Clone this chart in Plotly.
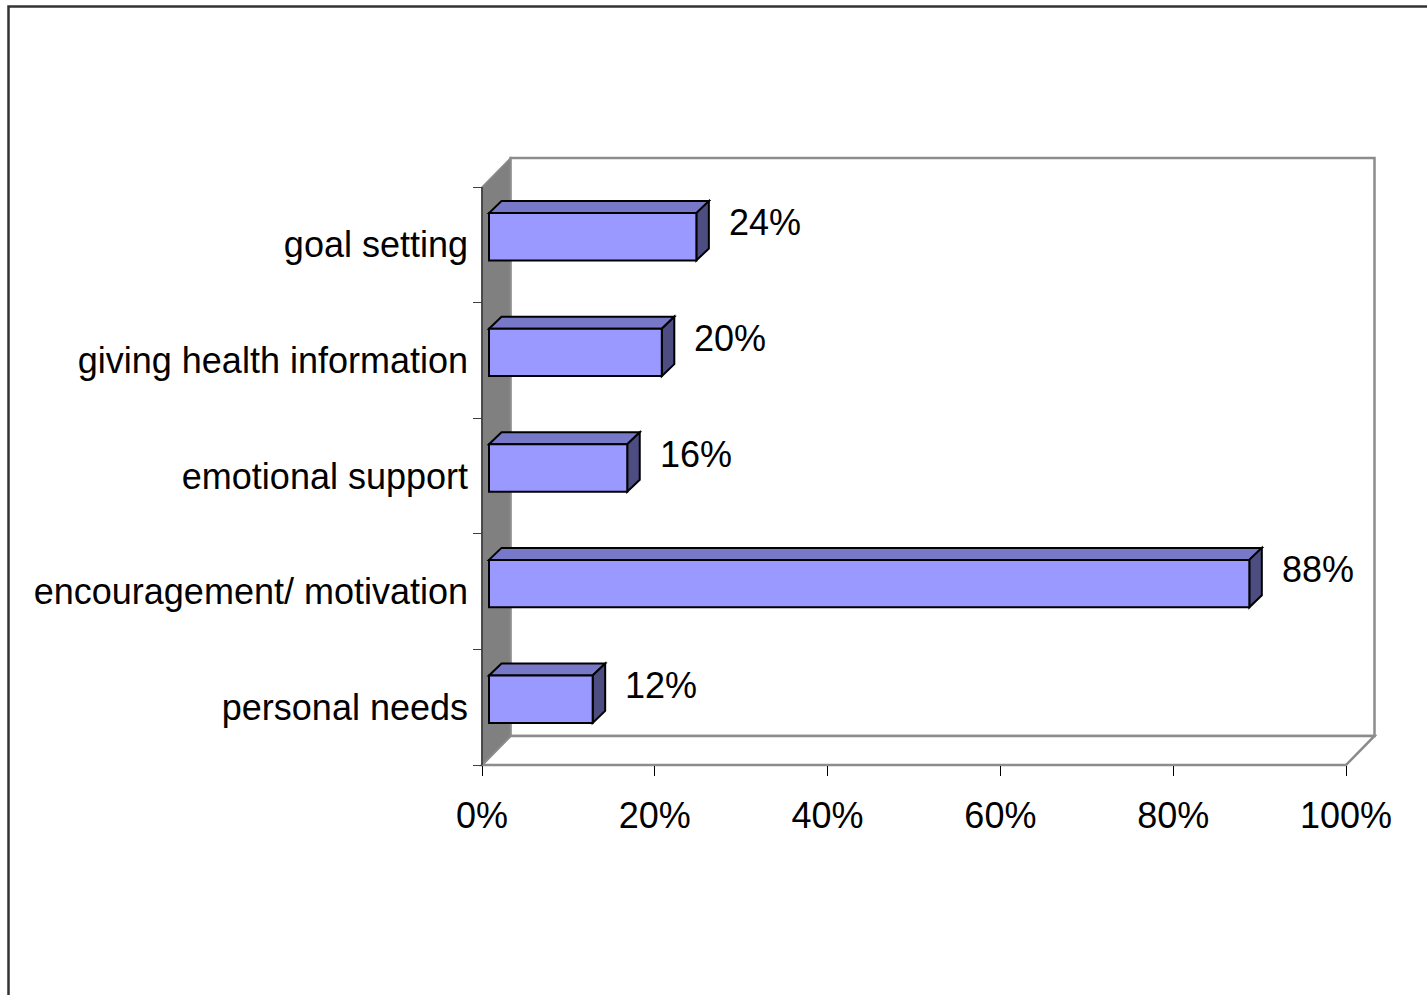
import plotly.graph_objects as go

# Survey results: share of responses per support category
categories = [
    "goal setting",
    "giving health information",
    "emotional support",
    "encouragement/ motivation",
    "personal needs",
]
values = [24, 20, 16, 88, 12]
x_ticks = [0, 20, 40, 60, 80, 100]

W, H = 1427, 995
FONT = "Liberation Sans, Arial, sans-serif"
FONT_SIZE = 36

# Pixel frame of the front plane of the 3D box
FRONT_LEFT, FRONT_RIGHT = 482, 1346
FRONT_TOP, FRONT_BOTTOM = 187, 765
n = len(categories)
PX_PER_PCT = (FRONT_RIGHT - FRONT_LEFT) / 100.0
PX_PER_CAT = (FRONT_BOTTOM - FRONT_TOP) / n

x_range = [-FRONT_LEFT / PX_PER_PCT, (W - FRONT_LEFT) / PX_PER_PCT]
y_range = [-0.5 - (H - FRONT_BOTTOM) / PX_PER_CAT, n - 0.5 + FRONT_TOP / PX_PER_CAT]


def dx(px):
    return px / PX_PER_PCT


def dy(px):
    return px / PX_PER_CAT


WALL_DX, WALL_DY = dx(28.5), dy(29)        # depth of the box
BAR_DX, BAR_DY = dx(7), dy(8)              # inset of bar front faces
BAR_DEPTH_X, BAR_DEPTH_Y = dx(12.5), dy(12)  # depth of each bar
BAR_W = 0.41

FRONT_COLOR = "#9999FF"
TOP_COLOR = "#7878C8"
SIDE_COLOR = "#4D4D82"
WALL_COLOR = "#808080"
EDGE_COLOR = "#8C8C8C"

# category index, bottom to top
order = list(reversed(categories))
pos = {c: order.index(c) for c in categories}

y_lo, y_hi = -0.5, n - 0.5
shapes = []


def poly(pts):
    return "M " + " L ".join(f"{x},{y}" for x, y in pts) + " Z"


# back wall
shapes.append(dict(type="rect", xref="x", yref="y", layer="below",
                   x0=WALL_DX, x1=100 + WALL_DX, y0=y_lo + WALL_DY, y1=y_hi + WALL_DY,
                   fillcolor="white", line=dict(color=EDGE_COLOR, width=2.5)))
# floor
shapes.append(dict(type="path", xref="x", yref="y", layer="below",
                   path=poly([(0, y_lo), (100, y_lo), (100 + WALL_DX, y_lo + WALL_DY),
                              (WALL_DX, y_lo + WALL_DY)]),
                   fillcolor="white", line=dict(color=EDGE_COLOR, width=2.5)))
# left wall
shapes.append(dict(type="path", xref="x", yref="y", layer="below",
                   path=poly([(0, y_lo), (0, y_hi), (WALL_DX, y_hi + WALL_DY),
                              (WALL_DX, y_lo + WALL_DY)]),
                   fillcolor=WALL_COLOR, line=dict(color=EDGE_COLOR, width=1.5)))
shapes.append(dict(type="line", xref="x", yref="y", layer="below",
                   x0=0, x1=0, y0=y_lo, y1=y_hi, line=dict(color="#303030", width=1.5)))

# top and side faces of every bar
for c, v in zip(categories, values):
    p = pos[c]
    y0 = p - BAR_W / 2 + BAR_DY
    y1 = p + BAR_W / 2 + BAR_DY
    xl = BAR_DX
    xr = BAR_DX + v
    shapes.append(dict(type="path", xref="x", yref="y", layer="below",
                       path=poly([(xl, y1), (xl + BAR_DEPTH_X, y1 + BAR_DEPTH_Y),
                                  (xr + BAR_DEPTH_X, y1 + BAR_DEPTH_Y), (xr, y1)]),
                       fillcolor=TOP_COLOR, line=dict(color="black", width=2)))
    shapes.append(dict(type="path", xref="x", yref="y", layer="below",
                       path=poly([(xr, y0), (xr, y1), (xr + BAR_DEPTH_X, y1 + BAR_DEPTH_Y),
                                  (xr + BAR_DEPTH_X, y0 + BAR_DEPTH_Y)]),
                       fillcolor=SIDE_COLOR, line=dict(color="black", width=2)))

# outer chart border
shapes.append(dict(type="rect", xref="paper", yref="paper", layer="above",
                   x0=8.5 / W, x1=1 + 10 / W, y0=-10 / H, y1=1 - 6.5 / H,
                   line=dict(color="#333333", width=2.5), fillcolor="rgba(0,0,0,0)"))

# front faces of the bars
bars = go.Bar(
    y=categories, x=values, orientation="h",
    base=BAR_DX, width=BAR_W, offset=-BAR_W / 2 + BAR_DY,
    marker=dict(color=FRONT_COLOR, line=dict(color="black", width=2)),
    hoverinfo="skip",
)

annotations = [
    dict(x=BAR_DX + v + BAR_DEPTH_X, y=c, xref="x", yref="y",
         text=f"{v}%", showarrow=False, xanchor="left", yanchor="middle",
         xshift=18, yshift=22, font=dict(family=FONT, size=FONT_SIZE, color="black"))
    for c, v in zip(categories, values)
]

fig = go.Figure(bars)
fig.update_layout(
    width=W, height=H, autosize=False,
    margin=dict(l=0, r=0, t=0, b=0, pad=0),
    paper_bgcolor="white", plot_bgcolor="white",
    showlegend=False, hovermode=False,
    font=dict(family=FONT, size=FONT_SIZE, color="black"),
    shapes=shapes, annotations=annotations,
    xaxis=dict(
        domain=[0, 1], range=x_range, anchor="free", automargin=False,
        position=(H - FRONT_BOTTOM) / H,
        tickmode="array", tickvals=x_ticks, ticktext=[f"{t}%" for t in x_ticks],
        ticks="outside", ticklen=10, tickwidth=1.2, tickcolor="black",
        ticklabelstandoff=9,
        showline=False, showgrid=False, zeroline=False,
        tickfont=dict(family=FONT, size=FONT_SIZE, color="black"),
    ),
    yaxis=dict(
        domain=[0, 1], range=y_range, type="category", automargin=False,
        categoryorder="array", categoryarray=order,
        anchor="free", position=FRONT_LEFT / W,
        tickson="boundaries", ticks="outside", ticklen=9, tickwidth=1.2,
        tickcolor="#404040", ticklabelstandoff=14,
        showline=False, showgrid=False, zeroline=False,
        tickfont=dict(family=FONT, size=FONT_SIZE, color="black"),
    ),
)

fig.write_html("out.html")
